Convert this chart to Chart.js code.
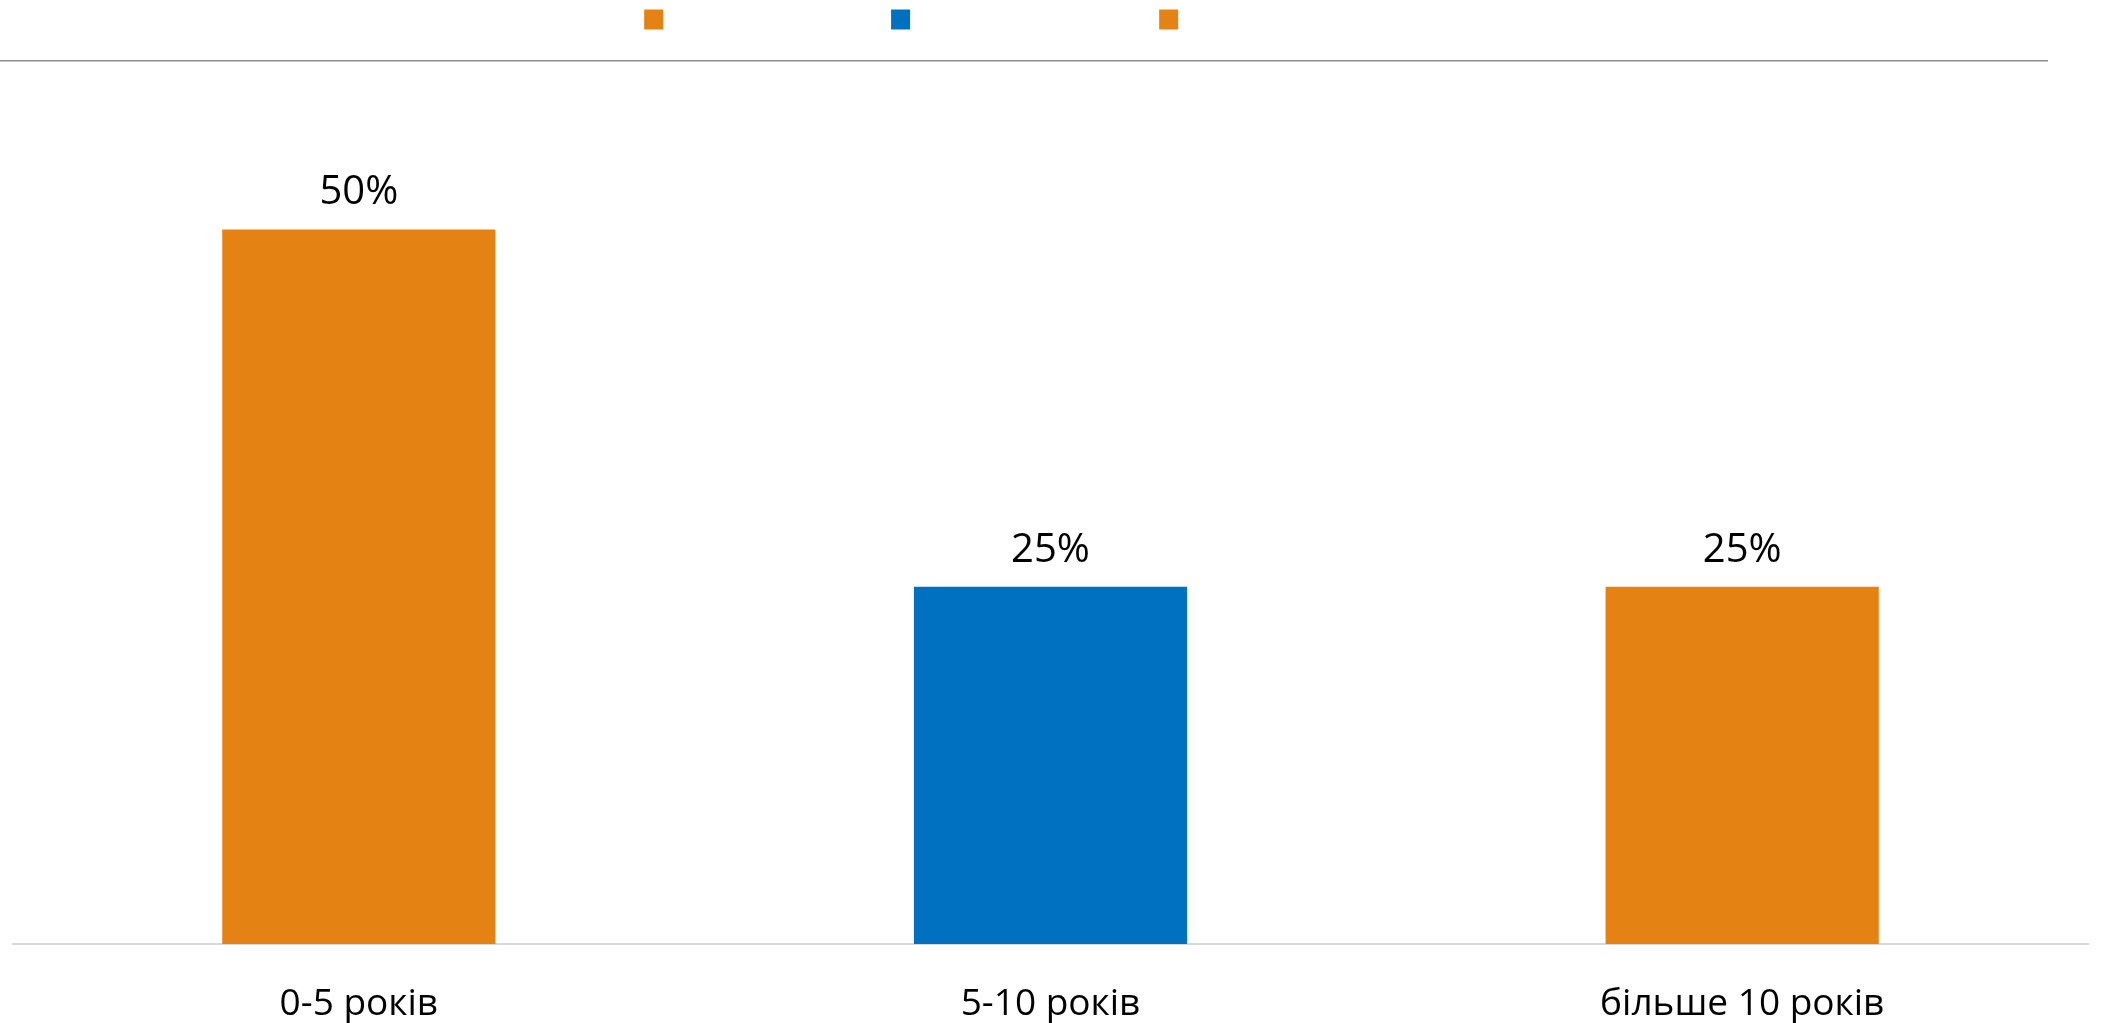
<!DOCTYPE html>
<html>
<head>
<meta charset="utf-8">
<script src="https://cdn.jsdelivr.net/npm/chart.js@4.4.0/dist/chart.umd.min.js"></script>
<style>
  html, body { margin: 0; padding: 0; background: #ffffff; }
  #wrap { position: relative; width: 2103px; height: 1023px; }
  #topline { position: absolute; left: 0; top: 60px; width: 2048px; height: 1px; background: #8c8c8c; border-bottom: 1px solid #c4c4c4; }
</style>
</head>
<body>
<div id="wrap">
  <canvas id="c" width="2103" height="1023"></canvas>
  <div id="topline"></div>
</div>
<script>
const categories = ["0-5 років", "5-10 років", "більше 10 років"];
const values = [50, 25, 25];
const valueLabels = ["50%", "25%", "25%"];
const barColors = ["#E58214", "#0070C0", "#E58214"];

const FONT = "'Open Sans', 'Noto Sans', sans-serif";

const valueLabelPlugin = {
  id: 'valueLabels',
  afterLayout(chart) {
    if (chart.legend) { chart.legend.left += 24; }
  },
  afterDatasetsDraw(chart) {
    const ctx = chart.ctx;
    const meta = chart.getDatasetMeta(0);
    ctx.save();
    ctx.font = "40px " + FONT;
    ctx.fillStyle = "#000000";
    ctx.textAlign = "center";
    ctx.textBaseline = "alphabetic";
    meta.data.forEach((bar, i) => {
      ctx.fillText(valueLabels[i], bar.x, bar.y - 25);
    });
    ctx.restore();
  }
};

new Chart(document.getElementById('c'), {
  type: 'bar',
  data: {
    labels: categories,
    datasets: [{
      data: values,
      backgroundColor: barColors,
      borderWidth: 0,
      categoryPercentage: 1.0,
      barPercentage: 0.395
    }]
  },
  options: {
    responsive: false,
    animation: false,
    layout: { padding: { left: 13, right: 15, top: -50, bottom: 0 } },
    plugins: {
      tooltip: { enabled: false },
      legend: {
        display: true,
        position: 'top',
        labels: {
          font: { family: FONT, size: 37 },
          boxWidth: 19,
          boxHeight: 20,
          padding: 51,
          generateLabels(chart) {
            return categories.map((c, i) => ({
              text: c,
              fillStyle: barColors[i],
              strokeStyle: barColors[i],
              lineWidth: 0,
              fontColor: '#ffffff',
              hidden: false,
              index: i,
              datasetIndex: 0
            }));
          }
        }
      }
    },
    scales: {
      x: {
        grid: { display: false },
        border: { display: true, color: '#d9d9d9', width: 2 },
        ticks: { font: { family: FONT, size: 37 }, color: '#000000', padding: 30 },
        afterFit(scale) { scale.height = 79; }
      },
      y: {
        display: false,
        min: 0,
        max: 62.7
      }
    }
  },
  plugins: [valueLabelPlugin]
});
</script>
</body>
</html>
